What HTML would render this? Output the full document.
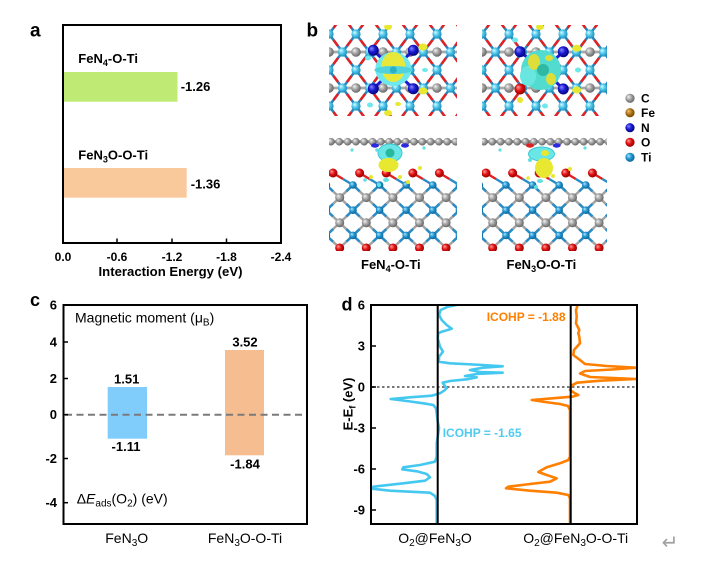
<!DOCTYPE html>
<html>
<head>
<meta charset="utf-8">
<style>
html,body{margin:0;padding:0;background:#fff;}
svg{display:block;}
text{font-family:"Liberation Sans",Arial,sans-serif;}
</style>
</head>
<body>
<svg width="704" height="576" viewBox="0 0 704 576" xmlns="http://www.w3.org/2000/svg">
<defs>
  <radialGradient id="gC" cx="0.45" cy="0.45" r="0.6" fx="0.32" fy="0.32"><stop offset="0" stop-color="#e0fbff"/><stop offset="0.5" stop-color="#4cc6ea"/><stop offset="1" stop-color="#1a86b4"/></radialGradient>
  <radialGradient id="gG" cx="0.45" cy="0.45" r="0.6" fx="0.32" fy="0.32"><stop offset="0" stop-color="#f4f4f4"/><stop offset="0.5" stop-color="#a2a2a2"/><stop offset="1" stop-color="#5c5c5c"/></radialGradient>
  <radialGradient id="gT" cx="0.45" cy="0.45" r="0.6" fx="0.32" fy="0.32"><stop offset="0" stop-color="#b0e8ff"/><stop offset="0.5" stop-color="#2094d0"/><stop offset="1" stop-color="#0c5e8e"/></radialGradient>
  <radialGradient id="gR" cx="0.45" cy="0.45" r="0.6" fx="0.32" fy="0.32"><stop offset="0" stop-color="#ffa0a0"/><stop offset="0.5" stop-color="#e01010"/><stop offset="1" stop-color="#880000"/></radialGradient>
  <radialGradient id="gB" cx="0.45" cy="0.45" r="0.6" fx="0.32" fy="0.32"><stop offset="0" stop-color="#8a8aff"/><stop offset="0.5" stop-color="#1a1ad2"/><stop offset="1" stop-color="#000070"/></radialGradient>
  <radialGradient id="gF" cx="0.45" cy="0.45" r="0.6" fx="0.32" fy="0.32"><stop offset="0" stop-color="#f4c878"/><stop offset="0.5" stop-color="#b0741a"/><stop offset="1" stop-color="#6a4000"/></radialGradient>

  <g id="diag">
    <line x1="-40.5" y1="-9" x2="0" y2="45"/>
    <line x1="-13.5" y1="-9" x2="27" y2="45"/>
    <line x1="13.5" y1="-9" x2="54" y2="45"/>
    <line x1="13.5" y1="-9" x2="-27" y2="45"/>
    <line x1="40.5" y1="-9" x2="0" y2="45"/>
    <line x1="67.5" y1="-9" x2="27" y2="45"/>
  </g>
  <g id="tile">
    <line x1="0" y1="27" x2="27" y2="27" stroke="#a8a8a8" stroke-width="2.8"/>
    <use href="#diag" stroke="#2583bd" stroke-width="2.5"/>
    <use href="#diag" stroke="#e52020" stroke-width="2.5" stroke-dasharray="7.5 15" stroke-dashoffset="15"/>
    <circle cx="0" cy="9" r="4.6" fill="url(#gC)"/>
    <circle cx="27" cy="9" r="4.6" fill="url(#gC)"/>
    <circle cx="13.5" cy="27" r="4.6" fill="url(#gC)"/>
    <circle cx="0" cy="27" r="4.8" fill="url(#gG)"/>
    <circle cx="27" cy="27" r="4.8" fill="url(#gG)"/>
  </g>
  <pattern id="latt1" patternUnits="userSpaceOnUse" x="329" y="25" width="27" height="36"><use href="#tile"/></pattern>
  <pattern id="latt2" patternUnits="userSpaceOnUse" x="482" y="25" width="27" height="36"><use href="#tile"/></pattern>

  <g id="bonds">
    <line x1="-55.8" y1="50" x2="10.7" y2="113"/>
    <line x1="-29.2" y1="50" x2="37.3" y2="113"/>
    <line x1="-2.6" y1="50" x2="63.9" y2="113"/>
    <line x1="24" y1="50" x2="90.5" y2="113"/>
    <line x1="50.6" y1="50" x2="117.1" y2="113"/>
    <line x1="77.2" y1="50" x2="143.7" y2="113"/>
    <line x1="103.8" y1="50" x2="170.3" y2="113"/>
    <line x1="24" y1="50" x2="-42.5" y2="113"/>
    <line x1="50.6" y1="50" x2="-15.9" y2="113"/>
    <line x1="77.2" y1="50" x2="10.7" y2="113"/>
    <line x1="103.8" y1="50" x2="37.3" y2="113"/>
    <line x1="130.4" y1="50" x2="63.9" y2="113"/>
    <line x1="157" y1="50" x2="90.5" y2="113"/>
    <line x1="183.6" y1="50" x2="117.1" y2="113"/>
  </g>
  <g id="slab">
    <line x1="0" y1="6.7" x2="128" y2="6.7" stroke="#808080" stroke-width="2.8"/>
    <g fill="url(#gG)">
      <circle cx="2" cy="6.7" r="3.8"/><circle cx="10.3" cy="6.7" r="3.8"/><circle cx="18.6" cy="6.7" r="3.8"/><circle cx="26.9" cy="6.7" r="3.8"/>
      <circle cx="35.2" cy="6.7" r="3.8"/><circle cx="43.5" cy="6.7" r="3.8"/><circle cx="51.8" cy="6.7" r="3.8"/><circle cx="60.1" cy="6.7" r="3.8"/>
      <circle cx="68.4" cy="6.7" r="3.8"/><circle cx="76.7" cy="6.7" r="3.8"/><circle cx="85" cy="6.7" r="3.8"/><circle cx="93.3" cy="6.7" r="3.8"/>
      <circle cx="101.6" cy="6.7" r="3.8"/><circle cx="109.9" cy="6.7" r="3.8"/><circle cx="118.2" cy="6.7" r="3.8"/><circle cx="126.5" cy="6.7" r="3.8"/>
    </g>
    <use href="#bonds" stroke="#a3a3a3" stroke-width="2.5"/>
    <use href="#bonds" stroke="#2a8cc6" stroke-width="2.5" stroke-dasharray="18.3 18.3" stroke-dashoffset="9.15"/>
    <g stroke-width="2.4">
      <line x1="4" y1="38" x2="14" y2="44" stroke="#e02020"/><line x1="14" y1="44" x2="24" y2="50" stroke="#2a8cc6"/>
      <line x1="30.6" y1="38" x2="40.6" y2="44" stroke="#e02020"/><line x1="40.6" y1="44" x2="50.6" y2="50" stroke="#2a8cc6"/>
      <line x1="57.2" y1="38" x2="67.2" y2="44" stroke="#e02020"/><line x1="67.2" y1="44" x2="77.2" y2="50" stroke="#2a8cc6"/>
      <line x1="83.8" y1="38" x2="93.8" y2="44" stroke="#e02020"/><line x1="93.8" y1="44" x2="103.8" y2="50" stroke="#2a8cc6"/>
      <line x1="110.4" y1="38" x2="120.4" y2="44" stroke="#e02020"/><line x1="120.4" y1="44" x2="130.4" y2="50" stroke="#2a8cc6"/>
    </g>
    <g fill="url(#gR)">
      <circle cx="4" cy="38" r="4.5"/><circle cx="30.6" cy="38" r="4.5"/><circle cx="57.2" cy="38" r="4.5"/><circle cx="83.8" cy="38" r="4.5"/><circle cx="110.4" cy="38" r="4.5"/>
      <circle cx="10.7" cy="113" r="4.5"/><circle cx="37.3" cy="113" r="4.5"/><circle cx="63.9" cy="113" r="4.5"/><circle cx="90.5" cy="113" r="4.5"/><circle cx="117.1" cy="113" r="4.5"/>
    </g>
    <g fill="url(#gG)">
      <circle cx="10.7" cy="62.6" r="4.5"/><circle cx="37.3" cy="62.6" r="4.5"/><circle cx="63.9" cy="62.6" r="4.5"/><circle cx="90.5" cy="62.6" r="4.5"/><circle cx="117.1" cy="62.6" r="4.5"/>
      <circle cx="10.7" cy="87.8" r="4.5"/><circle cx="37.3" cy="87.8" r="4.5"/><circle cx="63.9" cy="87.8" r="4.5"/><circle cx="90.5" cy="87.8" r="4.5"/><circle cx="117.1" cy="87.8" r="4.5"/>
    </g>
    <g fill="url(#gT)">
      <circle cx="-2.6" cy="50" r="3.8"/><circle cx="24" cy="50" r="3.8"/><circle cx="50.6" cy="50" r="3.8"/><circle cx="77.2" cy="50" r="3.8"/><circle cx="103.8" cy="50" r="3.8"/><circle cx="130.4" cy="50" r="3.8"/>
      <circle cx="-2.6" cy="75.2" r="3.8"/><circle cx="24" cy="75.2" r="3.8"/><circle cx="50.6" cy="75.2" r="3.8"/><circle cx="77.2" cy="75.2" r="3.8"/><circle cx="103.8" cy="75.2" r="3.8"/><circle cx="130.4" cy="75.2" r="3.8"/>
      <circle cx="-2.6" cy="100.4" r="3.8"/><circle cx="24" cy="100.4" r="3.8"/><circle cx="50.6" cy="100.4" r="3.8"/><circle cx="77.2" cy="100.4" r="3.8"/><circle cx="103.8" cy="100.4" r="3.8"/><circle cx="130.4" cy="100.4" r="3.8"/>
    </g>
  </g>
  <clipPath id="ct1"><rect x="329" y="25" width="128" height="91"/></clipPath>
  <clipPath id="ct2"><rect x="482" y="25" width="125" height="91"/></clipPath>
  <clipPath id="cb1"><rect x="329" y="135" width="128" height="116"/></clipPath>
  <clipPath id="cb2"><rect x="482" y="135" width="125" height="116"/></clipPath>
  <clipPath id="cd"><rect x="372" y="306" width="264" height="217"/></clipPath>
</defs>

<!-- ============ Panel a ============ -->
<text x="30" y="36.5" font-size="19" font-weight="bold">a</text>
<rect x="64" y="72" width="113.5" height="29.7" fill="#bfeb74"/>
<rect x="64" y="168" width="122.7" height="29.7" fill="#f9c99c"/>
<rect x="63" y="25" width="218" height="218" fill="none" stroke="#000" stroke-width="2"/>
<g stroke="#000" stroke-width="1.5">
  <line x1="117" y1="243" x2="117" y2="238.5"/>
  <line x1="172" y1="243" x2="172" y2="238.5"/>
  <line x1="226.5" y1="243" x2="226.5" y2="238.5"/>
</g>
<g font-size="12" font-weight="bold" text-anchor="middle" fill="#000">
  <text x="63" y="261">0.0</text>
  <text x="117" y="261">-0.6</text>
  <text x="172" y="261">-1.2</text>
  <text x="226.5" y="261">-1.8</text>
  <text x="281" y="261">-2.4</text>
</g>
<text x="170.5" y="276" font-size="13" font-weight="bold" text-anchor="middle" textLength="144" lengthAdjust="spacingAndGlyphs">Interaction Energy (eV)</text>
<g font-size="13" font-weight="bold">
  <text x="78.3" y="63">FeN<tspan font-size="9" dy="3">4</tspan><tspan dy="-3">-O-Ti</tspan></text>
  <text x="78.3" y="159.5">FeN<tspan font-size="9" dy="3">3</tspan><tspan dy="-3">O-O-Ti</tspan></text>
  <text x="180.7" y="91">-1.26</text>
  <text x="190.7" y="188.5">-1.36</text>
</g>

<!-- ============ Panel b ============ -->
<text x="306.5" y="36.5" font-size="19" font-weight="bold">b</text>

<!-- top-left -->
<g clip-path="url(#ct1)">
  <rect x="329" y="25" width="128" height="91" fill="url(#latt1)"/>
  <g stroke="#1a1ad8" stroke-width="3">
    <line x1="373.3" y1="50.3" x2="393.3" y2="69.5"/><line x1="413.3" y1="50.3" x2="393.3" y2="69.5"/>
    <line x1="373.3" y1="88.7" x2="393.3" y2="69.5"/><line x1="413.3" y1="88.7" x2="393.3" y2="69.5"/>
  </g>
  <ellipse cx="393.3" cy="69" rx="18" ry="17" fill="#6ee8ea"/>
  <ellipse cx="393.3" cy="67" rx="12" ry="15" fill="#e8e83a"/>
  <ellipse cx="393.3" cy="70" rx="19" ry="4" fill="#4fd2de"/>
  <circle cx="393.3" cy="70" r="3.5" fill="#2ab0c0"/>
  <circle cx="373.3" cy="50.3" r="5.5" fill="url(#gB)"/>
  <circle cx="413.3" cy="50.3" r="5.5" fill="url(#gB)"/>
  <circle cx="373.3" cy="88.7" r="5.5" fill="url(#gB)"/>
  <circle cx="413.3" cy="88.7" r="5.5" fill="url(#gB)"/>
  <g fill="#e8e830">
    <ellipse cx="423" cy="47" rx="4.5" ry="3.5"/><ellipse cx="423" cy="91" rx="4.5" ry="3.5"/>
    <ellipse cx="388" cy="27" rx="4" ry="3"/><ellipse cx="388" cy="113" rx="4" ry="3"/>
    <ellipse cx="398" cy="104" rx="3" ry="2"/>
  </g>
  <g fill="#6ee8ea">
    <ellipse cx="368" cy="58" rx="3" ry="2.5"/><ellipse cx="370" cy="105" rx="3" ry="2.5"/><ellipse cx="425" cy="70" rx="3" ry="2"/>
  </g>
</g>

<!-- top-right -->
<g clip-path="url(#ct2)">
  <rect x="482" y="25" width="125" height="91" fill="url(#latt2)"/>
  <g stroke="#1a1ad8" stroke-width="3">
    <line x1="520" y1="51.7" x2="543.3" y2="70"/><line x1="563.3" y1="51.7" x2="543.3" y2="70"/>
    <line x1="563.3" y1="89" x2="543.3" y2="70"/>
  </g>
  <line x1="520" y1="89" x2="543.3" y2="70" stroke="#d02020" stroke-width="3"/>
  <ellipse cx="541" cy="70" rx="20" ry="20" fill="#52dcd0"/>
  <ellipse cx="528" cy="76" rx="8" ry="10" fill="#6ae6e0"/>
  <ellipse cx="534" cy="62" rx="6" ry="8" fill="#dede3a"/>
  <ellipse cx="551" cy="79" rx="5" ry="6" fill="#dede3a"/>
  <ellipse cx="549" cy="58" rx="4" ry="3" fill="#dede3a"/>
  <circle cx="543" cy="70" r="6" fill="#2fb8a2"/>
  <circle cx="520" cy="51.7" r="5.5" fill="url(#gB)"/>
  <circle cx="563.3" cy="51.7" r="5.5" fill="url(#gB)"/>
  <circle cx="563.3" cy="89" r="5.5" fill="url(#gB)"/>
  <circle cx="520" cy="89" r="5.5" fill="url(#gR)"/>
  <g fill="#e8e830">
    <ellipse cx="576.7" cy="48.3" rx="4.5" ry="3.5"/><ellipse cx="576.7" cy="90" rx="4.5" ry="3.5"/>
    <ellipse cx="520" cy="100" rx="3" ry="3"/><ellipse cx="540" cy="27" rx="4" ry="3"/>
  </g>
  <g fill="#6ee8ea">
    <ellipse cx="515" cy="40" rx="3" ry="2.5"/><ellipse cx="578" cy="70" rx="3" ry="2.5"/><ellipse cx="545" cy="106" rx="3" ry="2.5"/>
  </g>
</g>

<!-- bottom-left -->
<g clip-path="url(#cb1)">
  <use href="#slab" transform="translate(329,135)"/>
  <ellipse cx="375" cy="145.5" rx="4" ry="2.2" fill="#2a2ae0"/>
  <ellipse cx="405" cy="145.5" rx="4" ry="2.2" fill="#2a2ae0"/>
  <ellipse cx="390" cy="153" rx="12" ry="9" fill="#6ae6e6" stroke="#3cc8d0" stroke-width="1"/>
  <circle cx="390" cy="153" r="4.5" fill="#28b89c"/>
  <ellipse cx="388.5" cy="165" rx="10" ry="7" fill="#e8e830"/>
  <g fill="#e8e830"><circle cx="400" cy="177" r="2"/><circle cx="371" cy="177" r="2"/><circle cx="408" cy="182" r="2"/><circle cx="420" cy="168" r="2"/></g>
  <g fill="#60e0e0"><ellipse cx="386" cy="180" rx="3" ry="2"/><circle cx="379" cy="185" r="2"/><circle cx="365" cy="180" r="1.8"/></g>
  <g fill="#60e0e0"><circle cx="377" cy="150" r="1.8"/><circle cx="352" cy="150" r="1.6"/><circle cx="424" cy="148" r="1.6"/></g>
</g>

<!-- bottom-right -->
<g clip-path="url(#cb2)">
  <use href="#slab" transform="translate(482,135)"/>
  <ellipse cx="530" cy="145.5" rx="4" ry="2.2" fill="#e02020"/>
  <ellipse cx="556.7" cy="145.5" rx="4" ry="2.2" fill="#2a2ae0"/>
  <ellipse cx="541.5" cy="154" rx="13" ry="7" fill="#6ae6e6" stroke="#3cc8d0" stroke-width="1"/>
  <ellipse cx="545" cy="153" rx="4" ry="3" fill="#e8e830"/>
  <ellipse cx="544" cy="168" rx="9" ry="10" fill="#e8e830"/>
  <g fill="#60e0e0"><ellipse cx="540" cy="181" rx="3" ry="2"/><circle cx="536" cy="187" r="2"/><circle cx="530" cy="160" r="2"/></g>
  <g fill="#e8e830"><circle cx="553" cy="176" r="2"/><circle cx="570" cy="169" r="2"/><circle cx="528" cy="178" r="1.8"/></g>
  <g fill="#60e0e0"><circle cx="500" cy="150" r="1.6"/><circle cx="585" cy="148" r="1.6"/></g>
</g>

<g font-size="13" font-weight="bold">
  <text x="361" y="269">FeN<tspan font-size="9" dy="3">4</tspan><tspan dy="-3">-O-Ti</tspan></text>
  <text x="506.5" y="269">FeN<tspan font-size="9" dy="3">3</tspan><tspan dy="-3">O-O-Ti</tspan></text>
</g>
<!-- legend -->
<circle cx="630" cy="98.3" r="4.6" fill="url(#gG)"/>
<circle cx="630" cy="112.7" r="4.6" fill="url(#gF)"/>
<circle cx="630" cy="127.7" r="4.6" fill="url(#gB)"/>
<circle cx="630" cy="142.3" r="4.6" fill="url(#gR)"/>
<circle cx="630" cy="157.3" r="4.6" fill="url(#gT)"/>
<g font-size="12" font-weight="bold">
  <text x="641" y="102.6">C</text>
  <text x="641" y="117">Fe</text>
  <text x="641" y="132">N</text>
  <text x="641" y="146.6">O</text>
  <text x="641" y="161.6">Ti</text>
</g>

<!-- ============ Panel c ============ -->
<text x="30" y="306" font-size="18" font-weight="bold">c</text>
<rect x="107.7" y="387" width="39.3" height="51.7" fill="#80cdfb"/>
<rect x="225" y="350" width="39" height="105.3" fill="#f6be90"/>
<line x1="65" y1="414.7" x2="306" y2="414.7" stroke="#7a7a7a" stroke-width="2" stroke-dasharray="7 4.5"/>
<rect x="63.5" y="305" width="243.5" height="219" fill="none" stroke="#000" stroke-width="2"/>
<g stroke="#000" stroke-width="1.5">
  <line x1="63.5" y1="342" x2="68" y2="342"/>
  <line x1="63.5" y1="378.5" x2="68" y2="378.5"/>
  <line x1="63.5" y1="414.7" x2="68" y2="414.7"/>
  <line x1="63.5" y1="458.5" x2="68" y2="458.5"/>
  <line x1="63.5" y1="502.7" x2="68" y2="502.7"/>
</g>
<g font-size="13" font-weight="bold" text-anchor="end">
  <text x="57" y="309.5">6</text>
  <text x="57" y="346.5">4</text>
  <text x="57" y="383">2</text>
  <text x="57" y="419.2">0</text>
  <text x="57" y="463">-2</text>
  <text x="57" y="507.2">-4</text>
</g>
<g font-size="13" font-weight="bold" text-anchor="middle">
  <text x="126.7" y="383.5">1.51</text>
  <text x="126" y="451">-1.11</text>
  <text x="245" y="346.5">3.52</text>
  <text x="245" y="468.5">-1.84</text>
</g>
<text x="75" y="322.5" font-size="14">Magnetic moment (μ<tspan font-size="10" dy="3">B</tspan><tspan dy="-3">)</tspan></text>
<text x="76.7" y="503.5" font-size="14">Δ<tspan font-style="italic">E</tspan><tspan font-size="10" dy="3">ads</tspan><tspan dy="-3">(O</tspan><tspan font-size="10" dy="3">2</tspan><tspan dy="-3">) (eV)</tspan></text>
<g font-size="14" text-anchor="middle">
  <text x="126.7" y="543">FeN<tspan font-size="10" dy="3">3</tspan><tspan dy="-3">O</tspan></text>
  <text x="245" y="543">FeN<tspan font-size="10" dy="3">3</tspan><tspan dy="-3">O-O-Ti</tspan></text>
</g>

<!-- ============ Panel d ============ -->
<text x="341.5" y="310.5" font-size="18" font-weight="bold">d</text>
<line x1="372" y1="387" x2="636" y2="387" stroke="#777" stroke-width="2" stroke-dasharray="2.5 2.5"/>
<g clip-path="url(#cd)" fill="none" stroke-linejoin="round">
  <polyline stroke="#45c8f0" stroke-width="2.6" points="456.7,305 448,306.7 440.7,310 439,315 441.7,320 446.7,325 451.7,328.7 441.7,331.7 438.3,333.3 437.7,338.3 440,346.7 443,351.7 439,356.7 439,361.7 450,363.3 483,365 502.7,366.3 483,367.7 470,370 480,372 502.7,372.7 476.7,374 465,376 476.7,377.3 466.7,379.3 450,381 442.7,382.7 445,386 446.7,388.3 444,390.7 440,393.3 431.7,395.7 410,397.3 390.7,399 406.7,401 423.3,403.3 433.3,405 436,408.3 436.7,413.3 437.5,420 439,428 438,435 436.7,443 436.7,456.7 435,461.7 420,465 403.3,467.3 402.3,469.3 416.7,471.3 426.7,474 430,477.3 425,480.7 403.3,483.3 373.3,486.7 371.7,488.7 390,490.7 430,492.7 435,496 436.7,500 436.7,524"/>
  <polyline stroke="#ff7f00" stroke-width="2.6" points="577.7,305 576,310 576.7,316.7 576,323.3 579.3,330 578.3,333.3 579.3,336.7 580,343.3 574,350 573.3,355 580,360 585,364 606.7,366 636,367.7 612,369.5 585,371 580,373.5 590,377 636,379 600,380.7 577,382.7 572,385.3 571,387 570,390 575,393.3 578.3,395 572,396.7 560,397.7 531.7,400 545,402 560,404 568,406 570,410 570,456.7 568.3,460 560,463.3 546.7,467.3 538.3,472 546.7,475 556.7,478.3 550,481.7 530,484 508.3,486.7 506,488.3 530,490.7 556.7,492.7 568.3,495 570,498.3 570,524"/>
</g>
<line x1="437.7" y1="305" x2="437.7" y2="524" stroke="#000" stroke-width="2"/>
<line x1="570.7" y1="305" x2="570.7" y2="524" stroke="#000" stroke-width="2"/>
<rect x="371" y="305" width="266" height="219" fill="none" stroke="#000" stroke-width="2"/>
<g stroke="#000" stroke-width="1.5">
  <line x1="371" y1="346" x2="376" y2="346"/>
  <line x1="371" y1="387" x2="376" y2="387"/>
  <line x1="371" y1="428" x2="376" y2="428"/>
  <line x1="371" y1="469" x2="376" y2="469"/>
  <line x1="371" y1="510" x2="376" y2="510"/>
</g>
<g font-size="13" font-weight="bold" text-anchor="end">
  <text x="365" y="309.5">6</text>
  <text x="365" y="350.5">3</text>
  <text x="365" y="391.5">0</text>
  <text x="365" y="432.5">-3</text>
  <text x="365" y="473.5">-6</text>
  <text x="365" y="514.5">-9</text>
</g>
<text transform="translate(352.5,404) rotate(-90)" text-anchor="middle" font-size="13" font-weight="bold">E-E<tspan font-size="9" dy="3">f</tspan><tspan dy="-3"> (eV)</tspan></text>
<text x="486.7" y="321" font-size="12" font-weight="bold" fill="#ff8000">ICOHP = -1.88</text>
<text x="442.7" y="437" font-size="12" font-weight="bold" fill="#4fcaf0">ICOHP = -1.65</text>
<g font-size="14" text-anchor="middle">
  <text x="435" y="543">O<tspan font-size="10" dy="3">2</tspan><tspan dy="-3">@FeN</tspan><tspan font-size="10" dy="3">3</tspan><tspan dy="-3">O</tspan></text>
  <text x="575.7" y="543">O<tspan font-size="10" dy="3">2</tspan><tspan dy="-3">@FeN</tspan><tspan font-size="10" dy="3">3</tspan><tspan dy="-3">O-O-Ti</tspan></text>
</g>
<text x="670" y="549" font-size="20" fill="#a0a0a0" text-anchor="middle" style="font-family:'DejaVu Sans',sans-serif">↵</text>
</svg>
</body>
</html>
